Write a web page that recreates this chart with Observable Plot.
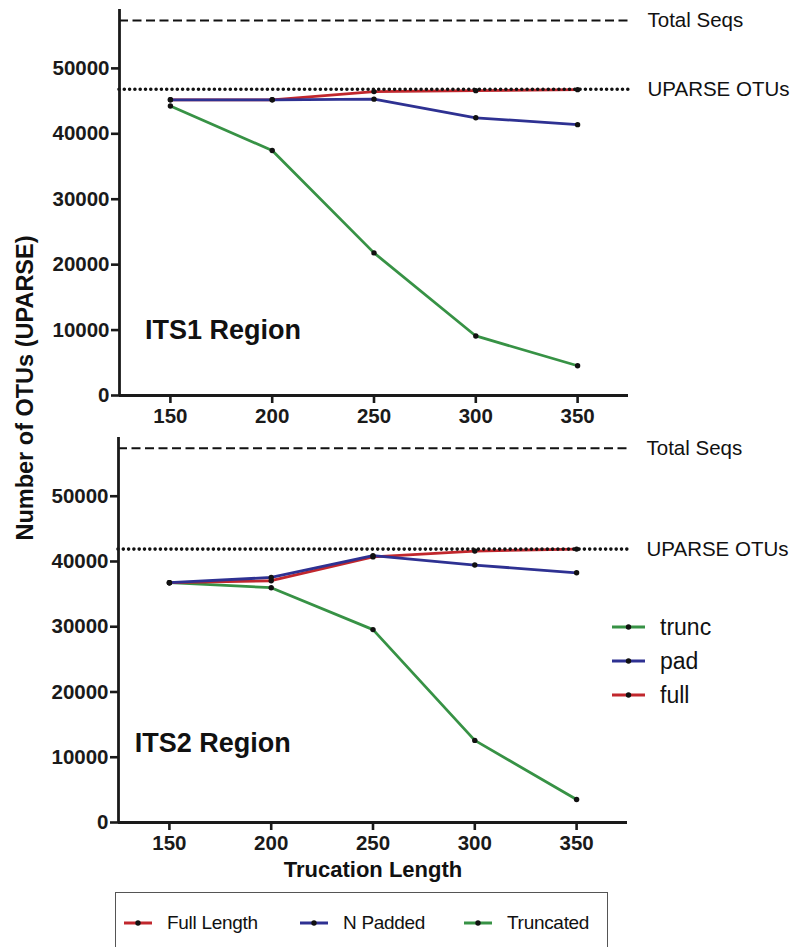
<!DOCTYPE html>
<html>
<head>
<meta charset="utf-8">
<script src="https://cdn.jsdelivr.net/npm/d3@7"></script>
<script src="https://cdn.jsdelivr.net/npm/@observablehq/plot@0.6"></script>
<style>
  html, body { margin: 0; padding: 0; background: #fff; }
  #root { position: relative; width: 795px; height: 947px; overflow: hidden; background: #fff;
          font-family: Arial, "Liberation Sans", sans-serif; color: #111; }
  .abs { position: absolute; }
  svg { overflow: visible; }
</style>
</head>
<body>
<div id="root">
  <div id="p1" class="abs" style="left:0;top:0"></div>
  <div id="p2" class="abs" style="left:0;top:425px"></div>
  <div id="ytitle" class="abs"></div>
  <div id="legend2" class="abs"></div>
  <div id="legendBox" class="abs"></div>
</div>
<script>
// ---- data ----
const lengths = [150, 200, 250, 300, 350];
const seriesKeys = ["trunc", "pad", "full"];
const seriesNames = ["Full Length", "N Padded", "Truncated"];
const its1Full  = [45200, 45200, 46450, 46600, 46750];
const its1Pad   = [45200, 45200, 45300, 42450, 41400];
const its1Trunc = [44250, 37450, 21800, 9100, 4550];
const its2Full  = [36750, 37050, 40700, 41600, 41900];
const its2Pad   = [36750, 37550, 40900, 39450, 38270];
const its2Trunc = [36750, 35980, 29560, 12580, 3520];
const totalSeqs = [57300, 57350];   // ITS1, ITS2
const uparseOtus = [46800, 41900];  // ITS1, ITS2
const yTicks = [0, 10000, 20000, 30000, 40000, 50000];
const regionLabels = ["ITS1 Region", "ITS2 Region"];

const colors = { full: "#c1272d", pad: "#2e3192", trunc: "#379245" };
const FONT = 'Arial, "Liberation Sans", sans-serif';

function rows(full, pad, trunc) {
  const out = [];
  const add = (key, arr) => arr.forEach((v, i) => out.push({ series: key, x: lengths[i], y: v }));
  add("trunc", trunc);
  add("full", full);
  add("pad", pad);
  return out;
}

function panel({ data, total, uparse, label, labelX, labelY, height, marginTop, marginBottom, marginLeft, marginRight, xTitle }) {
  const marks = [
    Plot.ruleY([total], { stroke: "#111", strokeWidth: 2, strokeDasharray: "9,4.5" }),
    Plot.line(data, { x: "x", y: "y", z: "series", stroke: d => colors[d.series], strokeWidth: 2.8 }),
    Plot.ruleY([uparse], { stroke: "#111", strokeWidth: 3.6, strokeDasharray: "0,5.3", strokeLinecap: "round" }),
    Plot.dot(data, { x: "x", y: "y", r: 2.7, fill: "#111", stroke: null }),
    Plot.axisY({ ticks: yTicks, tickSize: 8, tickPadding: 2, tickFormat: d3.format("d"),
                 fontSize: 20.5, fontWeight: "bold", fill: "#1a1a1a", stroke: "#1a1a1a", strokeWidth: 2.6, label: null }),
    Plot.axisX({ ticks: lengths, tickSize: 8, tickPadding: 5, tickFormat: d3.format("d"),
                 fontSize: 20.5, fontWeight: "bold", fill: "#1a1a1a", stroke: "#1a1a1a", strokeWidth: 2.6, label: null }),
    Plot.ruleX([125], { stroke: "#1a1a1a", strokeWidth: 2.8 }),
    Plot.ruleY([0], { stroke: "#1a1a1a", strokeWidth: 2.8 }),
    Plot.text([label], { x: labelX, y: labelY, text: d => d, textAnchor: "start", fontSize: 27, fontWeight: "bold", fill: "#111" }),
    Plot.text(["Total Seqs"], { x: 375, y: total, text: d => d, dx: 19, textAnchor: "start", fontSize: 20.5, fill: "#111" }),
    Plot.text(["UPARSE OTUs"], { x: 375, y: uparse, text: d => d, dx: 19, textAnchor: "start", fontSize: 20.5, fill: "#111" })
  ];
  if (xTitle) {
    marks.push(Plot.text([xTitle], { frameAnchor: "bottom", text: d => d, dy: 54, fontSize: 22, fontWeight: "bold", fill: "#111" }));
  }
  return Plot.plot({
    width: 795, height, marginTop, marginBottom, marginLeft, marginRight,
    x: { domain: [125, 375], axis: null },
    y: { domain: [0, 59000], axis: null },
    clip: false,
    style: { fontFamily: FONT, background: "transparent", overflow: "visible" },
    marks
  });
}

document.getElementById("p1").appendChild(panel({
  data: rows(its1Full, its1Pad, its1Trunc), total: totalSeqs[0], uparse: uparseOtus[0],
  label: regionLabels[0], labelX: 137.5, labelY: 10000,
  height: 425, marginTop: 9, marginBottom: 30, marginLeft: 119, marginRight: 167
}));
document.getElementById("p2").appendChild(panel({
  data: rows(its2Full, its2Pad, its2Trunc), total: totalSeqs[1], uparse: uparseOtus[1],
  label: regionLabels[1], labelX: 133, labelY: 12200,
  height: 467, marginTop: 12, marginBottom: 70, marginLeft: 118, marginRight: 168,
  xTitle: "Trucation Length"
}));

// ---- y title spanning both panels ----
const yt = document.getElementById("ytitle");
yt.textContent = "Number of OTUs (UPARSE)";
Object.assign(yt.style, {
  left: "25px", top: "388px", transform: "translate(-50%,-50%) rotate(-90deg)",
  whiteSpace: "nowrap", fontSize: "23.5px", fontWeight: "bold", fontFamily: FONT, color: "#111"
});

// ---- swatch helper ----
function swatch(color, w) {
  const ns = "http://www.w3.org/2000/svg";
  const s = document.createElementNS(ns, "svg");
  s.setAttribute("width", w); s.setAttribute("height", 10);
  s.style.display = "inline-block"; s.style.verticalAlign = "middle";
  const l = document.createElementNS(ns, "line");
  l.setAttribute("x1", 0); l.setAttribute("x2", w); l.setAttribute("y1", 5); l.setAttribute("y2", 5);
  l.setAttribute("stroke", color); l.setAttribute("stroke-width", 3);
  const c = document.createElementNS(ns, "circle");
  c.setAttribute("cx", w / 2); c.setAttribute("cy", 5); c.setAttribute("r", 2.7); c.setAttribute("fill", "#111");
  s.appendChild(l); s.appendChild(c);
  return s;
}

// ---- in-panel legend (trunc / pad / full) ----
const lg2 = document.getElementById("legend2");
Object.assign(lg2.style, { left: "612px", top: "609px" });
const legendTops = [0, 34, 68];
seriesKeys.forEach((k, i) => {
  const row = document.createElement("div");
  Object.assign(row.style, { position: "absolute", left: "0px", top: legendTops[i] + "px", height: "36px",
    display: "flex", alignItems: "center", whiteSpace: "nowrap" });
  row.appendChild(swatch(colors[k], 33));
  const t = document.createElement("span");
  t.textContent = k;
  Object.assign(t.style, { marginLeft: "15px", fontSize: "23px", fontFamily: FONT, color: "#111" });
  row.appendChild(t);
  lg2.appendChild(row);
});

// ---- bottom legend box ----
const lb = document.getElementById("legendBox");
Object.assign(lb.style, { left: "115px", top: "892px", width: "493px", height: "80px",
  border: "1.3px solid #555", boxSizing: "border-box" });
const boxKeys = ["full", "pad", "trunc"];
const boxLefts = [8, 184, 348];
boxKeys.forEach((k, i) => {
  const row = document.createElement("div");
  Object.assign(row.style, { position: "absolute", left: boxLefts[i] + "px", top: "14px", height: "32px",
    display: "flex", alignItems: "center", whiteSpace: "nowrap" });
  row.appendChild(swatch(colors[k], 28));
  const t = document.createElement("span");
  t.textContent = seriesNames[i];
  Object.assign(t.style, { marginLeft: "15px", fontSize: "19px", fontFamily: FONT, color: "#111", letterSpacing: "-0.3px" });
  row.appendChild(t);
  lb.appendChild(row);
});
</script>
</body>
</html>
